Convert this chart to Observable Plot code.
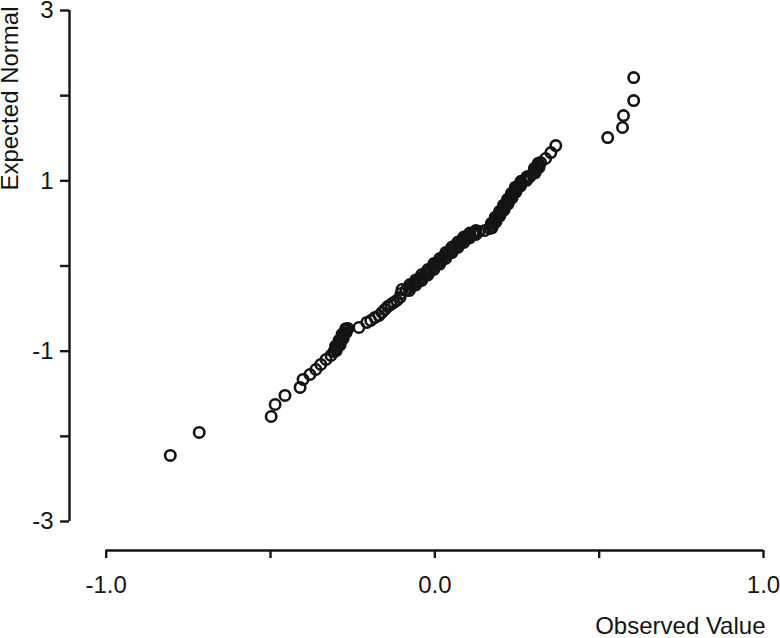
<!DOCTYPE html>
<html>
<head>
<meta charset="utf-8">
<script src="https://cdn.jsdelivr.net/npm/d3@7"></script>
<script src="https://cdn.jsdelivr.net/npm/@observablehq/plot@0.6"></script>
<style>
  html, body { margin: 0; padding: 0; background: #fff; }
  #chart svg { display: block; font-family: "Liberation Sans", Arial, sans-serif; }
</style>
</head>
<body>
<div id="chart"></div>
<script>
const observed = [
  -0.805, -0.717, -0.498, -0.486, -0.456, -0.410, -0.401, -0.380, -0.362, -0.347,
  -0.331, -0.316, -0.307, -0.301, -0.295, -0.289, -0.286, -0.280, -0.277, -0.271,
  -0.264, -0.231, -0.207, -0.195, -0.182, -0.170, -0.161, -0.152, -0.143, -0.134,
  -0.125, -0.116, -0.106, -0.103, -0.100, -0.088, -0.076, -0.067, -0.058, -0.049,
  -0.040, -0.030, -0.021, -0.012, -0.003, 0.006, 0.015, 0.024, 0.033, 0.043,
  0.052, 0.061, 0.070, 0.079, 0.088, 0.097, 0.106, 0.116, 0.125, 0.134,
  0.152, 0.167, 0.173, 0.179, 0.185, 0.191, 0.198, 0.204, 0.210, 0.216,
  0.222, 0.228, 0.234, 0.240, 0.246, 0.252, 0.261, 0.271, 0.280, 0.289,
  0.298, 0.304, 0.310, 0.316, 0.322, 0.337, 0.353, 0.368, 0.526, 0.571,
  0.574, 0.605, 0.605,
  // densely overlapping observations inside the solid runs
  -0.300, -0.302, -0.288, -0.291, -0.279, -0.282, -0.270, -0.271,
  -0.0775, -0.076, -0.058, -0.058, -0.040, -0.040, -0.021, -0.021, -0.003, -0.003,
  0.015, 0.015, 0.033, 0.033, 0.052, 0.052, 0.070, 0.070, 0.088, 0.088,
  0.106, 0.106, 0.125, 0.125,
  0.174, 0.172, 0.186, 0.184, 0.198, 0.197, 0.211, 0.209, 0.223, 0.221,
  0.235, 0.233, 0.247, 0.245, 0.261, 0.262, 0.279, 0.280,
  0.305, 0.303, 0.317, 0.315
];
const expected = [
  -2.224, -1.954, -1.767, -1.626, -1.520, -1.426, -1.332, -1.274, -1.215, -1.156,
  -1.097, -1.050, -1.004, -0.968, -0.933, -0.898, -0.863, -0.827, -0.792, -0.757,
  -0.734, -0.722, -0.663, -0.640, -0.604, -0.581, -0.546, -0.511, -0.475, -0.452,
  -0.428, -0.405, -0.370, -0.323, -0.276, -0.288, -0.252, -0.217, -0.194, -0.170,
  -0.135, -0.100, -0.076, -0.041, -0.006, 0.029, 0.053, 0.088, 0.123, 0.158,
  0.194, 0.217, 0.252, 0.276, 0.311, 0.335, 0.358, 0.381, 0.393, 0.405,
  0.417, 0.440, 0.475, 0.511, 0.546, 0.581, 0.616, 0.651, 0.687, 0.722,
  0.757, 0.792, 0.827, 0.863, 0.898, 0.933, 0.968, 1.004, 1.027, 1.050,
  1.086, 1.121, 1.156, 1.180, 1.215, 1.262, 1.332, 1.414, 1.508, 1.626,
  1.766, 1.942, 2.212,
  -0.995, -0.941, -0.925, -0.871, -0.854, -0.800, -0.784, -0.736,
  -0.288, -0.217, -0.223, -0.164, -0.170, -0.100, -0.106, -0.041, -0.041, 0.029,
  0.023, 0.088, 0.088, 0.158, 0.158, 0.223, 0.217, 0.282, 0.276, 0.340,
  0.329, 0.387, 0.370, 0.417,
  0.448, 0.502, 0.519, 0.573, 0.589, 0.643, 0.660, 0.714, 0.730, 0.784,
  0.800, 0.854, 0.871, 0.925, 0.941, 0.995, 1.006, 1.048,
  1.094, 1.148, 1.158, 1.207
];
const xTicks = [-1, -0.5, 0, 0.5, 1];
const xTickLabels = ["-1.0", "", "0.0", "", "1.0"];
const yTicks = [-3, -2, -1, 0, 1, 2, 3];
const yTickLabels = ["-3", "", "-1", "", "1", "", "3"];
const xTitle = "Observed Value";
const yTitle = "Expected Normal";

const points = observed.map((v, i) => ({observed: v, expected: expected[i]}));
const ink = "#141414";
const font = "Liberation Sans, Arial, sans-serif";

const chart = Plot.plot({
  width: 780,
  height: 638,
  marginLeft: 69,
  marginRight: 17,
  marginTop: 10,
  marginBottom: 88,
  style: {fontFamily: font, color: ink, background: "#fff"},
  x: {domain: [-1, 1], range: [105.7, 763]},
  y: {domain: [-3, 3], range: [521, 10]},
  marks: [
    // axis lines
    Plot.ruleY([yTicks[0]], {x1: xTicks[0], x2: xTicks[xTicks.length - 1], dy: 29, stroke: ink, strokeWidth: 2.4}),
    Plot.ruleX([xTicks[0]], {y1: yTicks[0], y2: yTicks[yTicks.length - 1], dx: -36.7, stroke: ink, strokeWidth: 2.4}),
    Plot.axisX(xTicks, {
      anchor: "bottom", label: null, tickSize: 8, tickPadding: 17,
      tickFormat: (d) => xTickLabels[xTicks.indexOf(d)],
      fontSize: 24, stroke: ink, strokeWidth: 2.4, fill: ink
    }),
    Plot.axisY(yTicks, {
      anchor: "left", label: null, tickSize: 9, tickPadding: 7,
      tickFormat: (d) => yTickLabels[yTicks.indexOf(d)],
      fontSize: 24, stroke: ink, strokeWidth: 2.4, fill: ink
    }),
    Plot.dot(points, {x: "observed", y: "expected", r: 5.2, stroke: ink, strokeWidth: 2.6, fill: "none"}),
    Plot.text([yTitle], {
      frameAnchor: "top-left", rotate: -90, textAnchor: "end", lineAnchor: "top",
      dx: -69, dy: -4, fontSize: 24, fill: ink
    }),
    Plot.text([xTitle], {
      frameAnchor: "bottom-right", textAnchor: "end", lineAnchor: "middle",
      dx: 2, dy: 76, fontSize: 24, fill: ink
    })
  ]
});
document.getElementById("chart").appendChild(chart);
</script>
</body>
</html>
